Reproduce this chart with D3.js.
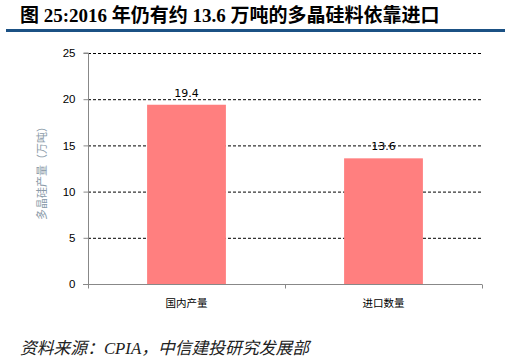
<!DOCTYPE html>
<html><head><meta charset="utf-8">
<script src="https://cdn.jsdelivr.net/npm/d3@7"></script>
<style>body{margin:0;background:#fff}svg{display:block}</style>
</head><body><svg id="c" width="507" height="360"></svg>
<script>
const categories = ["国内产量", "进口数量"];
const values = [19.4, 13.6];
const yTicks = [0, 5, 10, 15, 20, 25];
const titleText = "图 25:2016 年仍有约 13.6 万吨的多晶硅料依靠进口";
const yLabel = "多晶硅产量（万吨）";
const sourceText = "资料来源：CPIA，中信建投研究发展部";

const svg = d3.select("#c");
const m = {left: 88, right: 482, top: 53, bottom: 284};
const x = d3.scaleBand().domain(categories).range([m.left, m.right]).paddingInner(0.6).paddingOuter(0.3);
const y = d3.scaleLinear().domain([0, 25]).range([m.bottom, m.top]);

svg.append("text").attr("x", 20).attr("y", 22)
  .attr("font-family", "'Liberation Serif', 'Noto Sans CJK SC', serif").attr("font-weight", "bold")
  .attr("font-size", 19).attr("fill", "#000").text(titleText);
svg.append("rect").attr("x", 6).attr("y", 29).attr("width", 499).attr("height", 3).attr("fill", "#1b5184");

// gridlines
svg.append("g").selectAll("line").data(yTicks.filter(d => d > 0)).join("line")
  .attr("x1", m.left).attr("x2", m.right).attr("y1", d => y(d) + 0.5).attr("y2", d => y(d) + 0.5)
  .attr("stroke", "#000").attr("stroke-width", 1).attr("stroke-dasharray", "3,2");

// bars
svg.append("g").selectAll("rect").data(values).join("rect")
  .attr("x", (d, i) => x(categories[i])).attr("width", x.bandwidth())
  .attr("y", d => y(d)).attr("height", d => y(0) - y(d)).attr("fill", "#ff7f7f");

svg.append("g").selectAll("text").data(values).join("text")
  .attr("x", (d, i) => x(categories[i]) + x.bandwidth() / 2).attr("y", d => y(d) - 8)
  .attr("text-anchor", "middle").attr("font-family", "'DejaVu Sans', 'Liberation Sans', sans-serif")
  .attr("font-size", 11).attr("fill", "#000").text(d => d.toFixed(1));

// y axis
const ya = d3.axisLeft(y).tickValues(yTicks).tickSize(5).tickPadding(8).tickFormat(d3.format("d"));
const gy = svg.append("g").attr("transform", `translate(${m.left + 0.5},0)`).call(ya);
gy.select(".domain").attr("stroke", "#888").attr("d", `M-5,${m.top}H0V${m.bottom}`);
gy.selectAll(".tick line").attr("stroke", "#888");
gy.selectAll(".tick text").attr("font-family", "'Liberation Sans', Arial, sans-serif").attr("font-size", 11.5).attr("fill", "#000");

// x axis
const gx = svg.append("g").attr("transform", `translate(0,${m.bottom + 0.5})`);
gx.append("line").attr("x1", m.left - 5).attr("x2", m.right).attr("y1", 0).attr("y2", 0).attr("stroke", "#888");
const bounds = [m.left, (m.left + m.right) / 2, m.right];
gx.selectAll("line.t").data(bounds).join("line").attr("class", "t")
  .attr("x1", d => d + 0.5).attr("x2", d => d + 0.5).attr("y1", 0).attr("y2", 4).attr("stroke", "#888");
gx.selectAll("text").data(categories).join("text")
  .attr("x", d => x(d) + x.bandwidth() / 2).attr("y", 22).attr("text-anchor", "middle")
  .attr("font-family", "'Noto Sans CJK SC', sans-serif").attr("font-size", 10.5).attr("fill", "#000").text(d => d);

// y label
svg.append("text").attr("transform", `translate(46,${(m.top + m.bottom) / 2 + 2}) rotate(-90)`)
  .attr("text-anchor", "middle").attr("font-family", "'Noto Sans CJK SC', sans-serif")
  .attr("font-size", 11).attr("fill", "#8a9aa8").text(yLabel);

// source
svg.append("text").attr("x", 20).attr("y", 354).attr("font-family", "'Liberation Serif', 'Noto Sans CJK SC', serif")
  .attr("font-style", "italic").attr("font-size", 16.8).attr("fill", "#222").text(sourceText);
</script></body></html>
